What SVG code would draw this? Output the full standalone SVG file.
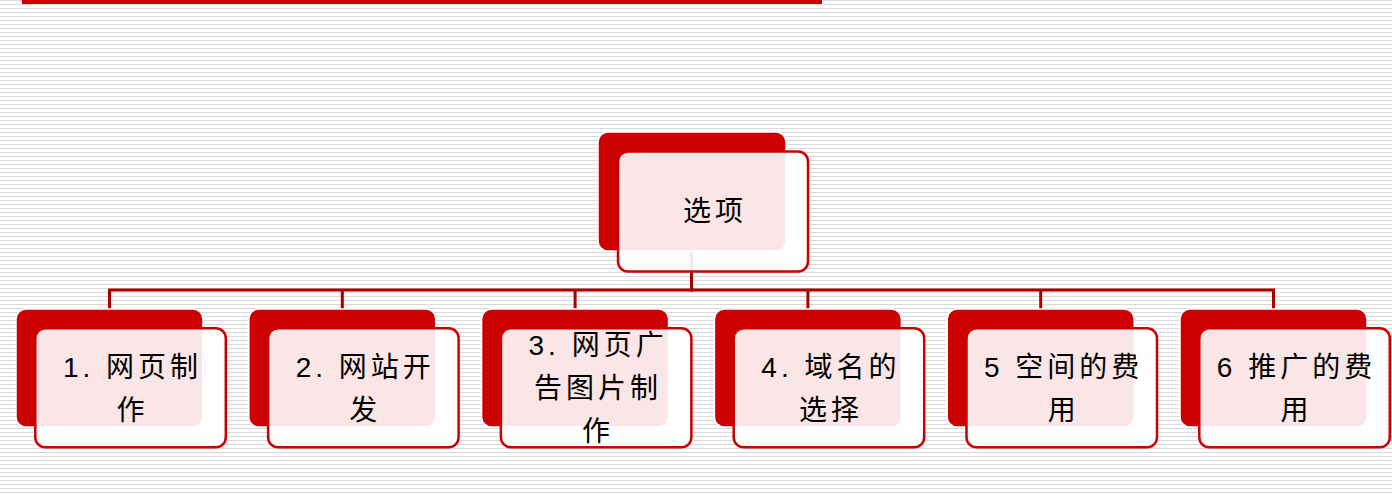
<svg xmlns="http://www.w3.org/2000/svg" width="1392" height="496" viewBox="0 0 1392 496">
  <defs>
    <pattern id="stripes" width="4" height="4" patternUnits="userSpaceOnUse">
      <rect width="4" height="4" fill="#ffffff"/>
      <rect y="0" width="4" height="1" fill="#d9d9d9"/>
    </pattern>
    <style>
      .back { fill: #cc0000; stroke: #ffffff; stroke-width: 1.5; }
      .front { fill: #ffffff; fill-opacity: 0.9; stroke: #cc0000; stroke-width: 2.5; }
      .conn { stroke: #a80000; stroke-width: 3; fill: none; }
      .lbl { font-family: "Liberation Sans", "Noto Sans CJK SC", sans-serif; font-size: 28px; letter-spacing: 4px; fill: #000000; text-anchor: middle; }
    </style>
  </defs>
  <rect width="1392" height="496" fill="url(#stripes)"/>
  <rect x="22" y="0" width="800" height="4" fill="#cc0000"/>

  <g id="connectors">
    <line class="conn" x1="691.5" y1="250" x2="691.5" y2="291.5"/>
    <line class="conn" x1="108" y1="290" x2="1275" y2="290"/>
    <line class="conn" x1="109.5" y1="290" x2="109.5" y2="309"/>
    <line class="conn" x1="342.3" y1="290" x2="342.3" y2="309"/>
    <line class="conn" x1="575.1" y1="290" x2="575.1" y2="309"/>
    <line class="conn" x1="807.9" y1="290" x2="807.9" y2="309"/>
    <line class="conn" x1="1040.7" y1="290" x2="1040.7" y2="309"/>
    <line class="conn" x1="1273.5" y1="290" x2="1273.5" y2="309"/>
  </g>

  <g id="root">
    <rect class="back" x="598" y="132" width="188" height="119" rx="10"/>
    <rect class="front" x="618" y="151.5" width="190" height="120" rx="10"/>
    <text class="lbl" x="715" y="221">选项</text>
  </g>

  <g id="n1">
    <rect class="back" x="16" y="309" width="187" height="118" rx="10"/>
    <rect class="front" x="35.3" y="328.3" width="190.5" height="119" rx="10"/>
    <text class="lbl" x="132.5" y="377">1. 网页制</text>
    <text class="lbl" x="132.5" y="420">作</text>
  </g>

  <g id="n2">
    <rect class="back" x="248.8" y="309" width="187" height="118" rx="10"/>
    <rect class="front" x="268.1" y="328.3" width="190.5" height="119" rx="10"/>
    <text class="lbl" x="365.3" y="377">2. 网站开</text>
    <text class="lbl" x="365.3" y="420">发</text>
  </g>

  <g id="n3">
    <rect class="back" x="481.6" y="309" width="187" height="118" rx="10"/>
    <rect class="front" x="500.9" y="328.3" width="190.5" height="119" rx="10"/>
    <text class="lbl" x="598.1" y="355">3. 网页广</text>
    <text class="lbl" x="598.1" y="398">告图片制</text>
    <text class="lbl" x="598.1" y="441">作</text>
  </g>

  <g id="n4">
    <rect class="back" x="714.4" y="309" width="187" height="118" rx="10"/>
    <rect class="front" x="733.7" y="328.3" width="190.5" height="119" rx="10"/>
    <text class="lbl" x="830.9" y="377">4. 域名的</text>
    <text class="lbl" x="830.9" y="420">选择</text>
  </g>

  <g id="n5">
    <rect class="back" x="947.2" y="309" width="187" height="118" rx="10"/>
    <rect class="front" x="966.5" y="328.3" width="190.5" height="119" rx="10"/>
    <text class="lbl" x="1063.7" y="377">5 空间的费</text>
    <text class="lbl" x="1063.7" y="420">用</text>
  </g>

  <g id="n6">
    <rect class="back" x="1180" y="309" width="187" height="118" rx="10"/>
    <rect class="front" x="1199.3" y="328.3" width="190.5" height="119" rx="10"/>
    <text class="lbl" x="1296.5" y="377">6 推广的费</text>
    <text class="lbl" x="1296.5" y="420">用</text>
  </g>
</svg>
